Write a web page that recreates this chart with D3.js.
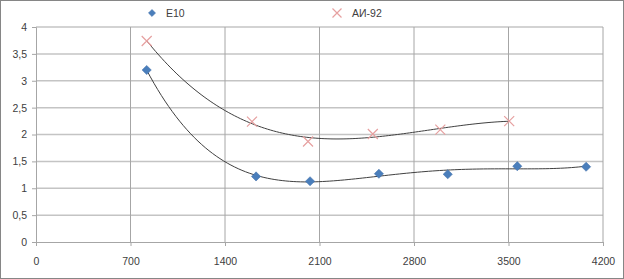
<!DOCTYPE html>
<html lang="ru">
<head>
<meta charset="utf-8">
<title>E10 vs AI-92</title>
<script src="https://d3js.org/d3.v7.min.js"></script>
<style>
  body { margin: 0; background: #fff; }
  text { font-family: "Liberation Sans", Arial, sans-serif; font-size: 10.5px; fill: #404040; }
</style>
</head>
<body>
<script>
// data
var e10X = [820, 1630, 2030, 2540, 3050, 3565, 4075];
var e10Y = [3.2, 1.22, 1.13, 1.27, 1.26, 1.41, 1.40];
var ai92X = [820, 1600, 2015, 2495, 2995, 3505];
var ai92Y = [3.74, 2.24, 1.87, 2.01, 2.09, 2.25];
var xTicks = [0, 700, 1400, 2100, 2800, 3500, 4200];
var yTicks = [0, 0.5, 1, 1.5, 2, 2.5, 3, 3.5, 4];
var seriesNames = ["E10", "АИ-92"];

var W = 624, H = 279;
var svg = d3.select("body").append("svg")
  .attr("width", W).attr("height", H);

svg.append("rect")
  .attr("x", 0.5).attr("y", 0.5)
  .attr("width", W - 1).attr("height", H - 1)
  .attr("fill", "#fff").attr("stroke", "#868686");

var x = d3.scaleLinear().domain([0, 4200]).range([36, 603]);
var y = d3.scaleLinear().domain([0, 4]).range([242, 27]);

// gridlines
svg.append("g").selectAll("line").data(yTicks.slice(1)).enter().append("line")
  .attr("x1", x(0)).attr("x2", x(4200))
  .attr("y1", function(d) { return y(d); }).attr("y2", function(d) { return y(d); })
  .attr("stroke", "#c4c4c4").attr("stroke-width", 1.5);
svg.append("g").selectAll("line").data(xTicks.slice(1)).enter().append("line")
  .attr("y1", y(0)).attr("y2", y(4))
  .attr("x1", function(d) { return x(d); }).attr("x2", function(d) { return x(d); })
  .attr("stroke", "#a6a6a6").attr("stroke-width", 1);

var fmt = function(d) { return String(d).replace(".", ","); };

var yAxis = svg.append("g")
  .attr("transform", "translate(" + x(0) + ",0)")
  .call(d3.axisLeft(y).tickValues(yTicks).tickSize(4).tickPadding(5).tickFormat(fmt));
var xAxis = svg.append("g")
  .attr("transform", "translate(0," + y(0) + ")")
  .call(d3.axisBottom(x).tickValues(xTicks).tickSize(4).tickPadding(12).tickFormat(d3.format("d")));
[yAxis, xAxis].forEach(function(a) {
  a.select(".domain").attr("stroke", "#a6a6a6");
  a.selectAll(".tick line").attr("stroke", "#a6a6a6");
  a.selectAll("text").attr("fill", "#404040").style("font-size", "10.5px");
});

// least-squares polynomial trendline (like Excel polynomial trend)
function polyFit(xs, ys, order) {
  var n = order + 1, A = [], i, j, k;
  for (i = 0; i < n; i++) {
    A.push([]);
    for (j = 0; j <= n; j++) A[i].push(0);
  }
  xs.forEach(function(xv, p) {
    var t = xv / 1000;
    for (i = 0; i < n; i++) {
      for (j = 0; j < n; j++) A[i][j] += Math.pow(t, i + j);
      A[i][n] += ys[p] * Math.pow(t, i);
    }
  });
  for (i = 0; i < n; i++) {
    var piv = i;
    for (k = i + 1; k < n; k++) if (Math.abs(A[k][i]) > Math.abs(A[piv][i])) piv = k;
    var tmp = A[i]; A[i] = A[piv]; A[piv] = tmp;
    for (k = i + 1; k < n; k++) {
      var f = A[k][i] / A[i][i];
      for (j = i; j <= n; j++) A[k][j] -= f * A[i][j];
    }
  }
  var c = new Array(n).fill(0);
  for (i = n - 1; i >= 0; i--) {
    var s = A[i][n];
    for (j = i + 1; j < n; j++) s -= A[i][j] * c[j];
    c[i] = s / A[i][i];
  }
  return function(xv) {
    var t = xv / 1000, r = 0;
    for (var q = 0; q < n; q++) r += c[q] * Math.pow(t, q);
    return r;
  };
}

var line = d3.line().x(function(d) { return x(d[0]); }).y(function(d) { return y(d[1]); });
function trend(xs, ys, order) {
  var f = polyFit(xs, ys, order);
  var lo = d3.min(xs), hi = d3.max(xs);
  var pts = d3.range(0, 121).map(function(i) { var xv = lo + (hi - lo) * i / 120; return [xv, f(xv)]; });
  svg.append("path").attr("d", line(pts))
    .attr("fill", "none").attr("stroke", "#404040").attr("stroke-width", 1);
}
trend(ai92X, ai92Y, 3);
trend(e10X, e10Y, 4);

function drawDiamond(g, cx, cy, s) {
  g.append("rect")
    .attr("x", -s / 2).attr("y", -s / 2).attr("width", s).attr("height", s)
    .attr("transform", "translate(" + cx + "," + cy + ") rotate(45)")
    .attr("fill", "#4a7ebb").attr("stroke", "#3c6da8").attr("stroke-width", 0.5);
}
function drawCross(g, cx, cy, s) {
  g.append("path")
    .attr("d", "M" + (cx - s) + "," + (cy - s) + "L" + (cx + s) + "," + (cy + s) +
               "M" + (cx - s) + "," + (cy + s) + "L" + (cx + s) + "," + (cy - s))
    .attr("stroke", "#e6a0a0").attr("stroke-width", 1.2).attr("fill", "none");
}

var marks = svg.append("g");
e10X.forEach(function(xv, i) { drawDiamond(marks, x(xv), y(e10Y[i]), 6.5); });
ai92X.forEach(function(xv, i) { drawCross(marks, x(xv), y(ai92Y[i]), 5); });

// legend
var leg = svg.append("g");
drawDiamond(leg, 152, 13, 5);
leg.append("text").attr("x", 166).attr("y", 17).text(seriesNames[0]);
drawCross(leg, 337, 13, 4.5);
leg.append("text").attr("x", 352).attr("y", 17).text(seriesNames[1]);
</script>
</body>
</html>
